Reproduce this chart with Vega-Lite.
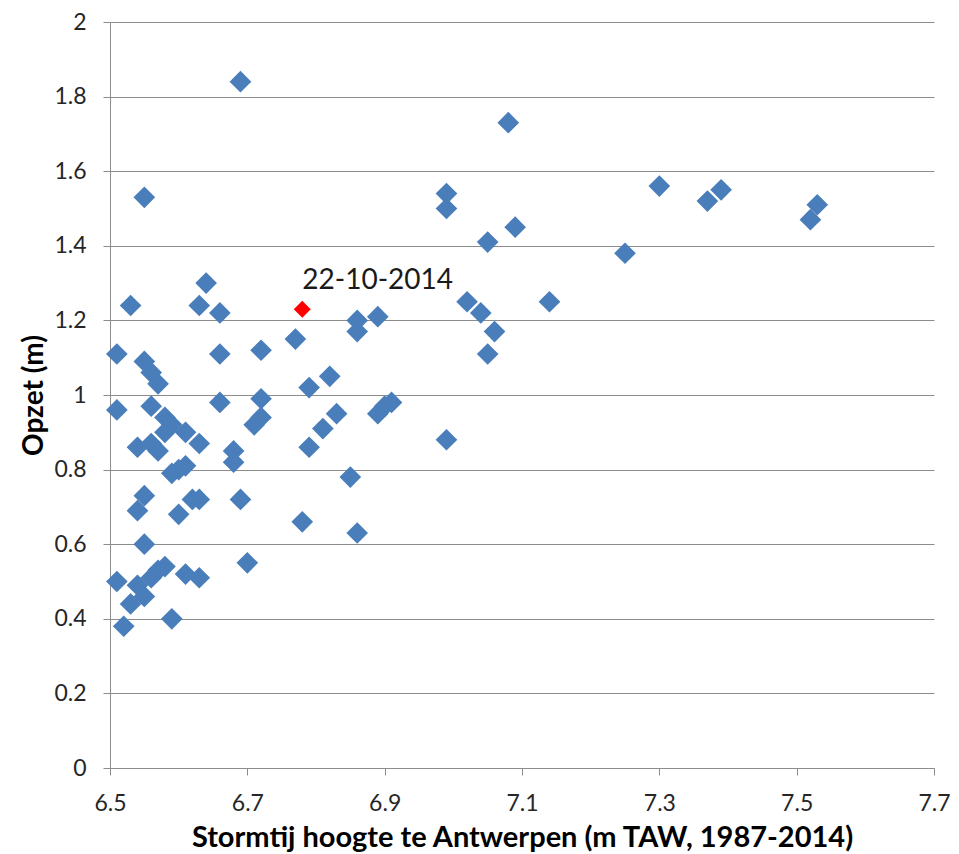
{
  "$schema": "https://vega.github.io/schema/vega-lite/v6.json",
  "width": 824,
  "height": 746,
  "autosize": {"type": "none"},
  "padding": {"left": 110, "top": 22, "right": 25, "bottom": 86},
  "background": "white",
  "config": {
    "view": {"stroke": null},
    "font": "Lato"
  },
  "data": {
    "values": [
      {"hoogte": 6.69, "opzet": 1.84, "type": "storm"},
      {"hoogte": 7.08, "opzet": 1.73, "type": "storm"},
      {"hoogte": 6.55, "opzet": 1.53, "type": "storm"},
      {"hoogte": 6.99, "opzet": 1.54, "type": "storm"},
      {"hoogte": 6.99, "opzet": 1.50, "type": "storm"},
      {"hoogte": 7.30, "opzet": 1.56, "type": "storm"},
      {"hoogte": 7.37, "opzet": 1.52, "type": "storm"},
      {"hoogte": 7.39, "opzet": 1.55, "type": "storm"},
      {"hoogte": 7.52, "opzet": 1.47, "type": "storm"},
      {"hoogte": 7.53, "opzet": 1.51, "type": "storm"},
      {"hoogte": 7.05, "opzet": 1.41, "type": "storm"},
      {"hoogte": 7.09, "opzet": 1.45, "type": "storm"},
      {"hoogte": 7.25, "opzet": 1.38, "type": "storm"},
      {"hoogte": 6.64, "opzet": 1.30, "type": "storm"},
      {"hoogte": 6.53, "opzet": 1.24, "type": "storm"},
      {"hoogte": 6.63, "opzet": 1.24, "type": "storm"},
      {"hoogte": 6.66, "opzet": 1.22, "type": "storm"},
      {"hoogte": 7.02, "opzet": 1.25, "type": "storm"},
      {"hoogte": 7.04, "opzet": 1.22, "type": "storm"},
      {"hoogte": 7.14, "opzet": 1.25, "type": "storm"},
      {"hoogte": 6.86, "opzet": 1.20, "type": "storm"},
      {"hoogte": 6.86, "opzet": 1.17, "type": "storm"},
      {"hoogte": 6.89, "opzet": 1.21, "type": "storm"},
      {"hoogte": 7.06, "opzet": 1.17, "type": "storm"},
      {"hoogte": 7.05, "opzet": 1.11, "type": "storm"},
      {"hoogte": 6.51, "opzet": 1.11, "type": "storm"},
      {"hoogte": 6.66, "opzet": 1.11, "type": "storm"},
      {"hoogte": 6.72, "opzet": 1.12, "type": "storm"},
      {"hoogte": 6.77, "opzet": 1.15, "type": "storm"},
      {"hoogte": 6.55, "opzet": 1.09, "type": "storm"},
      {"hoogte": 6.56, "opzet": 1.06, "type": "storm"},
      {"hoogte": 6.57, "opzet": 1.03, "type": "storm"},
      {"hoogte": 6.51, "opzet": 0.96, "type": "storm"},
      {"hoogte": 6.56, "opzet": 0.97, "type": "storm"},
      {"hoogte": 6.58, "opzet": 0.94, "type": "storm"},
      {"hoogte": 6.59, "opzet": 0.92, "type": "storm"},
      {"hoogte": 6.58, "opzet": 0.90, "type": "storm"},
      {"hoogte": 6.61, "opzet": 0.90, "type": "storm"},
      {"hoogte": 6.54, "opzet": 0.86, "type": "storm"},
      {"hoogte": 6.56, "opzet": 0.87, "type": "storm"},
      {"hoogte": 6.57, "opzet": 0.85, "type": "storm"},
      {"hoogte": 6.63, "opzet": 0.87, "type": "storm"},
      {"hoogte": 6.66, "opzet": 0.98, "type": "storm"},
      {"hoogte": 6.72, "opzet": 0.99, "type": "storm"},
      {"hoogte": 6.71, "opzet": 0.92, "type": "storm"},
      {"hoogte": 6.72, "opzet": 0.94, "type": "storm"},
      {"hoogte": 6.68, "opzet": 0.85, "type": "storm"},
      {"hoogte": 6.68, "opzet": 0.82, "type": "storm"},
      {"hoogte": 6.79, "opzet": 1.02, "type": "storm"},
      {"hoogte": 6.82, "opzet": 1.05, "type": "storm"},
      {"hoogte": 6.79, "opzet": 0.86, "type": "storm"},
      {"hoogte": 6.81, "opzet": 0.91, "type": "storm"},
      {"hoogte": 6.83, "opzet": 0.95, "type": "storm"},
      {"hoogte": 6.89, "opzet": 0.95, "type": "storm"},
      {"hoogte": 6.90, "opzet": 0.97, "type": "storm"},
      {"hoogte": 6.91, "opzet": 0.98, "type": "storm"},
      {"hoogte": 6.99, "opzet": 0.88, "type": "storm"},
      {"hoogte": 6.59, "opzet": 0.79, "type": "storm"},
      {"hoogte": 6.60, "opzet": 0.80, "type": "storm"},
      {"hoogte": 6.61, "opzet": 0.81, "type": "storm"},
      {"hoogte": 6.55, "opzet": 0.73, "type": "storm"},
      {"hoogte": 6.54, "opzet": 0.69, "type": "storm"},
      {"hoogte": 6.60, "opzet": 0.68, "type": "storm"},
      {"hoogte": 6.62, "opzet": 0.72, "type": "storm"},
      {"hoogte": 6.63, "opzet": 0.72, "type": "storm"},
      {"hoogte": 6.69, "opzet": 0.72, "type": "storm"},
      {"hoogte": 6.85, "opzet": 0.78, "type": "storm"},
      {"hoogte": 6.78, "opzet": 0.66, "type": "storm"},
      {"hoogte": 6.86, "opzet": 0.63, "type": "storm"},
      {"hoogte": 6.55, "opzet": 0.60, "type": "storm"},
      {"hoogte": 6.51, "opzet": 0.50, "type": "storm"},
      {"hoogte": 6.54, "opzet": 0.49, "type": "storm"},
      {"hoogte": 6.55, "opzet": 0.46, "type": "storm"},
      {"hoogte": 6.53, "opzet": 0.44, "type": "storm"},
      {"hoogte": 6.56, "opzet": 0.51, "type": "storm"},
      {"hoogte": 6.57, "opzet": 0.53, "type": "storm"},
      {"hoogte": 6.58, "opzet": 0.54, "type": "storm"},
      {"hoogte": 6.61, "opzet": 0.52, "type": "storm"},
      {"hoogte": 6.63, "opzet": 0.51, "type": "storm"},
      {"hoogte": 6.70, "opzet": 0.55, "type": "storm"},
      {"hoogte": 6.52, "opzet": 0.38, "type": "storm"},
      {"hoogte": 6.59, "opzet": 0.40, "type": "storm"},
      {"hoogte": 6.78, "opzet": 1.23, "type": "highlight", "label": "22-10-2014"}
    ]
  },
  "encoding": {
    "x": {
      "field": "hoogte",
      "type": "quantitative",
      "scale": {"domain": [6.5, 7.7], "nice": false, "zero": false},
      "axis": {
        "title": "Stormtij hoogte te Antwerpen (m TAW, 1987-2014)",
        "values": [6.5, 6.7, 6.9, 7.1, 7.3, 7.5, 7.7],
        "format": ".1f",
        "grid": false,
        "domainColor": "#8c8c8c",
        "tickColor": "#8c8c8c",
        "tickSize": 7,
        "labelFontSize": 23,
        "labelColor": "#262626",
        "labelPadding": 17,
        "labelFlush": false,
        "titleFontSize": 29,
        "titleFontWeight": "bold",
        "titleColor": "#000000",
        "titleBaseline": "alphabetic",
        "titleY": 78
      }
    },
    "y": {
      "field": "opzet",
      "type": "quantitative",
      "scale": {"domain": [0, 2], "nice": false},
      "axis": {
        "title": "Opzet (m)",
        "values": [0, 0.2, 0.4, 0.6, 0.8, 1, 1.2, 1.4, 1.6, 1.8, 2],
        "format": "~g",
        "grid": true,
        "gridColor": "#8c8c8c",
        "gridOpacity": 1,
        "domainColor": "#8c8c8c",
        "tickColor": "#8c8c8c",
        "tickSize": 7,
        "labelFontSize": 23,
        "labelColor": "#262626",
        "labelPadding": 17,
        "labelFlush": false,
        "titleFontSize": 28,
        "titleFontWeight": "bold",
        "titleColor": "#000000",
        "titleBaseline": "alphabetic",
        "titleX": -68
      }
    }
  },
  "layer": [
    {
      "mark": {"type": "point", "shape": "diamond", "filled": true, "opacity": 1, "strokeWidth": 0},
      "encoding": {
        "color": {
          "field": "type",
          "type": "nominal",
          "scale": {"domain": ["storm", "highlight"], "range": ["#4a7ebb", "#ff0000"]},
          "legend": null
        },
        "size": {
          "field": "type",
          "type": "nominal",
          "scale": {"domain": ["storm", "highlight"], "range": [470, 290]},
          "legend": null
        },
        "order": {"field": "type", "sort": "descending"}
      }
    },
    {
      "transform": [{"filter": "datum.type === 'highlight'"}],
      "mark": {"type": "text", "align": "left", "baseline": "alphabetic", "dx": 0, "dy": -20, "fontSize": 28, "color": "#1a1a1a", "font": "Lato"},
      "encoding": {"text": {"field": "label"}}
    }
  ]
}
